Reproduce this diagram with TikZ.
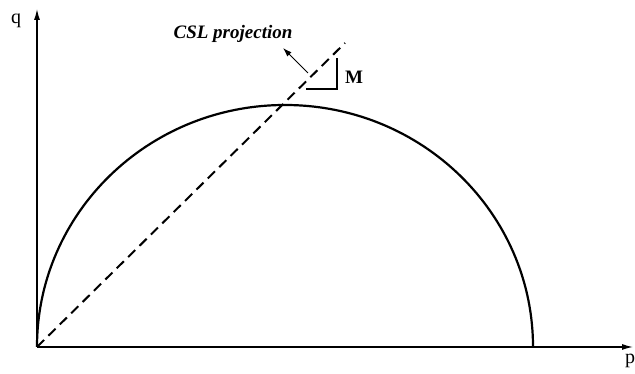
\documentclass[tikz,border=0pt]{standalone}
\usepackage{fontspec}
\setmainfont{Liberation Serif}
\usetikzlibrary{arrows.meta}

\begin{document}
\begin{tikzpicture}[x=1pt,y=1pt, every node/.style={font=\fontsize{20}{22}\selectfont}]
  % canvas 635 x 374, origin bottom left
  \useasboundingbox (0,0) rectangle (635,374);

  % ── axes ──
  \coordinate (O) at (37,27);
  \coordinate (qtop) at (37,365);
  \coordinate (pend) at (633,27);
  \draw[-{Latex[length=11pt,width=6pt]}, line width=1.3pt] (O) -- (qtop);
  \draw[-{Latex[length=11pt,width=6pt]}, line width=1.3pt] (O) -- (pend);
  \node (qlab) at (16,353) {q};
  \node (plab) at (630,13) {p};

  % ── yield surface (half ellipse) ──
  \draw[line width=2.2pt] (O) arc[start angle=180, end angle=0, x radius=248, y radius=242];

  % ── CSL line ──
  \coordinate (cslend) at (345,331);
  \draw[dashed, dash pattern=on 10pt off 6pt, line width=2pt] (O) -- (cslend);

  % slope triangle M
  \coordinate (tA) at (306,285);
  \coordinate (tB) at (337,285);
  \coordinate (tC) at (337,316);
  \draw[line width=1.6pt] (tA) -- (tB) -- (tC);
  \node[font=\fontsize{19}{21}\selectfont\bfseries] (slope) at (354,297) {M};

  % ── label ──
  \node[font=\fontsize{19}{21}\selectfont\bfseries\itshape] (csl) at (233,340) {CSL projection};
  \coordinate (arrfrom) at (308,301);
  \draw[-{Latex[length=9pt,width=6pt]}, line width=1pt] (arrfrom) -- (283,326);
\end{tikzpicture}
\end{document}
